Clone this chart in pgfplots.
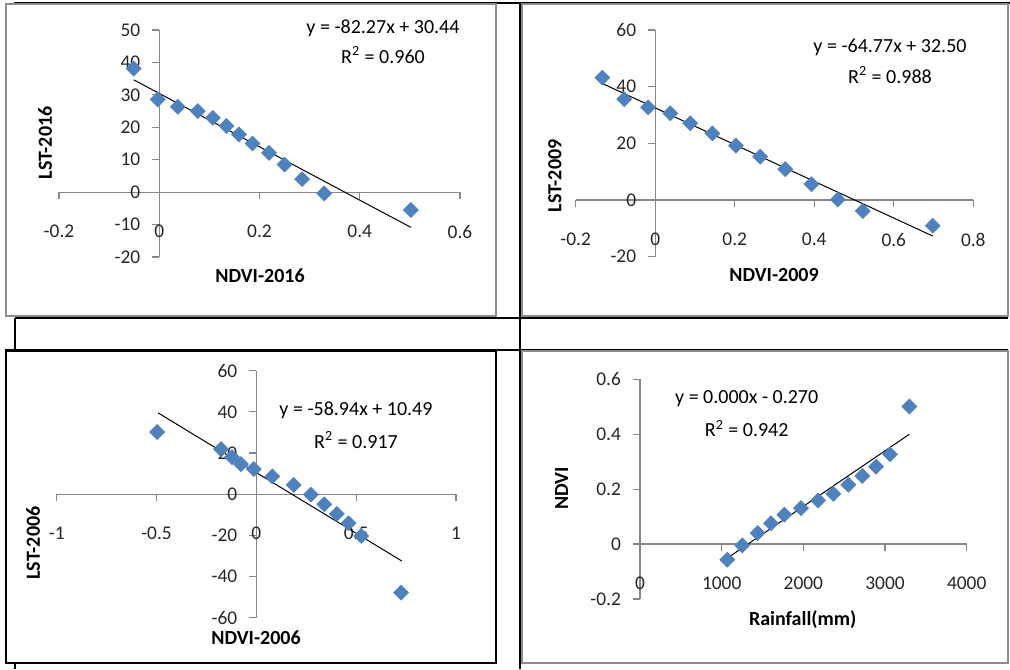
\documentclass[border=0pt]{standalone}
\usepackage{fontspec}
\setmainfont{Carlito}
\usepackage{pgfplots}
\pgfplotsset{compat=1.18}
\definecolor{exblue}{HTML}{4F81BD}
\definecolor{axgray}{HTML}{868686}
\definecolor{framegray}{HTML}{8C8C8C}

\pgfplotsset{
  excel/.style={
    scale only axis, anchor=south west, clip=false,
    axis lines=middle,
    axis line style={-, draw=axgray, line width=0.6pt},
    every inner x axis line/.append style={-},
    every inner y axis line/.append style={-},
    tick align=outside,
    major tick length=3.5pt,
    tick style={draw=axgray, line width=0.6pt},
    minor tick num=0,
    hide obscured x ticks=false, hide obscured y ticks=false,
    ticklabel style={font=\fontsize{9.7}{11}\selectfont, text=black!85},
    xticklabel style={anchor=north, yshift=-9.5pt},
    yticklabel style={anchor=east, xshift=-2.5pt},
    /pgf/number format/assume math mode=true,
    /pgf/number format/1000 sep={},
    scaled ticks=false,
  },
  pts/.style={only marks, mark=square*, mark size=2.6pt,
    mark options={rotate=45, fill=exblue, draw=exblue}},
  trend/.style={black, line width=0.5pt, no marks},
}

\newcommand{\eqfont}{\fontsize{10}{12}\selectfont}
\newcommand{\labfont}{\fontsize{10}{12}\selectfont\bfseries}

\begin{document}
\begin{tikzpicture}
\useasboundingbox (0,0) rectangle (505pt,334.5pt);

% table lines and chart frames
\draw[black, line width=1pt] (7pt,333pt) -- (505pt,333pt);
\draw[black, line width=1pt] (260pt,333pt) -- (260pt,0pt);
\draw[black, line width=1pt] (7.5pt,175.5pt) -- (504pt,175.5pt);
\draw[black, line width=1pt] (7.5pt,175.5pt) -- (7.5pt,159.5pt);
\draw[black, line width=1pt] (2.5pt,159.5pt) -- (504pt,159.5pt);
\draw[black, line width=1pt] (7.5pt,3pt) -- (7.5pt,0pt);
\draw[framegray, line width=0.8pt] (3pt,332.5pt) rectangle (248pt,176.5pt);
\draw[framegray, line width=0.8pt] (261pt,332.5pt) rectangle (504pt,176.5pt);
\draw[framegray, line width=0.8pt] (261pt,159pt) rectangle (504pt,3pt);
\draw[black, line width=1pt] (3pt,159pt) rectangle (248pt,3pt);

% NDVI-2016 vs LST-2016
\begin{axis}[excel, at={(29.5pt,206pt)}, width=200.5pt, height=113.5pt,
  xmin=-0.2, xmax=0.6, ymin=-20, ymax=50,
  xtick={-0.2,0,0.2,0.4,0.6}, ytick={-20,-10,0,10,20,30,40,50}]
\addplot[pts] coordinates {
  (-0.051,38.1) (-0.003,28.6) (0.037,26.3) (0.077,25.0) (0.107,22.9)
  (0.134,20.4) (0.159,17.8) (0.186,15.0) (0.219,12.1) (0.250,8.5)
  (0.285,4.0) (0.329,-0.4) (0.502,-5.5)
};
\addplot[trend] coordinates {(-0.051,34.64) (0.502,-10.86)};
\end{axis}
\node[font=\eqfont] at (191.5pt,320.5pt) {y = -82.27x + 30.44};
\node[font=\eqfont] at (191.5pt,307pt) {R\textsuperscript{2} = 0.960};
\node[font=\labfont, rotate=90] at (22.5pt,263pt) {LST-2016};
\node[font=\labfont] at (130pt,196.5pt) {NDVI-2016};

% NDVI-2009 vs LST-2009
\begin{axis}[excel, at={(287.85pt,206.15pt)}, width=198.8pt, height=113.35pt,
  xmin=-0.2, xmax=0.8, ymin=-20, ymax=60,
  xtick={-0.2,0,0.2,0.4,0.6,0.8}, ytick={-20,0,20,40,60}]
\addplot[pts] coordinates {
  (-0.133,43.2) (-0.078,35.6) (-0.018,32.7) (0.038,30.6) (0.088,27.1)
  (0.144,23.5) (0.203,19.2) (0.264,15.3) (0.327,10.9) (0.393,5.6)
  (0.459,0.2) (0.522,-3.9) (0.698,-9.1)
};
\addplot[trend] coordinates {(-0.133,41.11) (0.698,-12.71)};
\end{axis}
\node[font=\eqfont] at (445pt,311pt) {y = -64.77x + 32.50};
\node[font=\eqfont] at (445pt,297pt) {R\textsuperscript{2} = 0.988};
\node[font=\labfont, rotate=90] at (277.5pt,246.5pt) {LST-2009};
\node[font=\labfont] at (387pt,197pt) {NDVI-2009};

% NDVI-2006 vs LST-2006
\begin{axis}[excel, at={(28.35pt,25.65pt)}, width=199.65pt, height=123.5pt,
  xmin=-1, xmax=1, ymin=-60, ymax=60,
  xtick={-1,-0.5,0,0.5,1}, ytick={-60,-40,-20,0,20,40,60}]
\addplot[pts] coordinates {
  (-0.497,30.2) (-0.177,21.9) (-0.122,18.0) (-0.077,14.6) (-0.013,12.2)
  (0.080,8.6) (0.187,4.5) (0.273,-0.2) (0.340,-4.9) (0.403,-9.6)
  (0.462,-14.1) (0.525,-20.3) (0.725,-47.8)
};
\addplot[trend] coordinates {(-0.492,39.49) (0.728,-32.42)};
\end{axis}
\node[font=\eqfont] at (178pt,129.15pt) {y = -58.94x + 10.49};
\node[font=\eqfont] at (178pt,114.5pt) {R\textsuperscript{2} = 0.917};
\node[font=\labfont, rotate=90] at (16.5pt,63pt) {LST-2006};
\node[font=\labfont] at (128pt,15.65pt) {NDVI-2006};

% Rainfall vs NDVI
\begin{axis}[excel, at={(320pt,35pt)}, width=163.35pt, height=109.85pt,
  xmin=0, xmax=4000, ymin=-0.2, ymax=0.6,
  xtick={0,1000,2000,3000,4000}, ytick={-0.2,0,0.2,0.4,0.6}]
\addplot[pts] coordinates {
  (1069,-0.057) (1253,-0.005) (1441,0.040) (1604,0.076) (1767,0.107)
  (1971,0.131) (2180,0.159) (2367,0.183) (2551,0.216) (2722,0.248)
  (2890,0.282) (3061,0.327) (3298,0.501)
};
\addplot[trend] coordinates {(1069,-0.051) (3298,0.400)};
\end{axis}
\node[font=\eqfont] at (373.35pt,135.35pt) {y = 0.000x - 0.270};
\node[font=\eqfont] at (373.35pt,120.35pt) {R\textsuperscript{2} = 0.942};
\node[font=\labfont, rotate=90] at (280.85pt,90.35pt) {NDVI};
\node[font=\labfont] at (401.35pt,24.5pt) {Rainfall(mm)};
\end{tikzpicture}
\end{document}
